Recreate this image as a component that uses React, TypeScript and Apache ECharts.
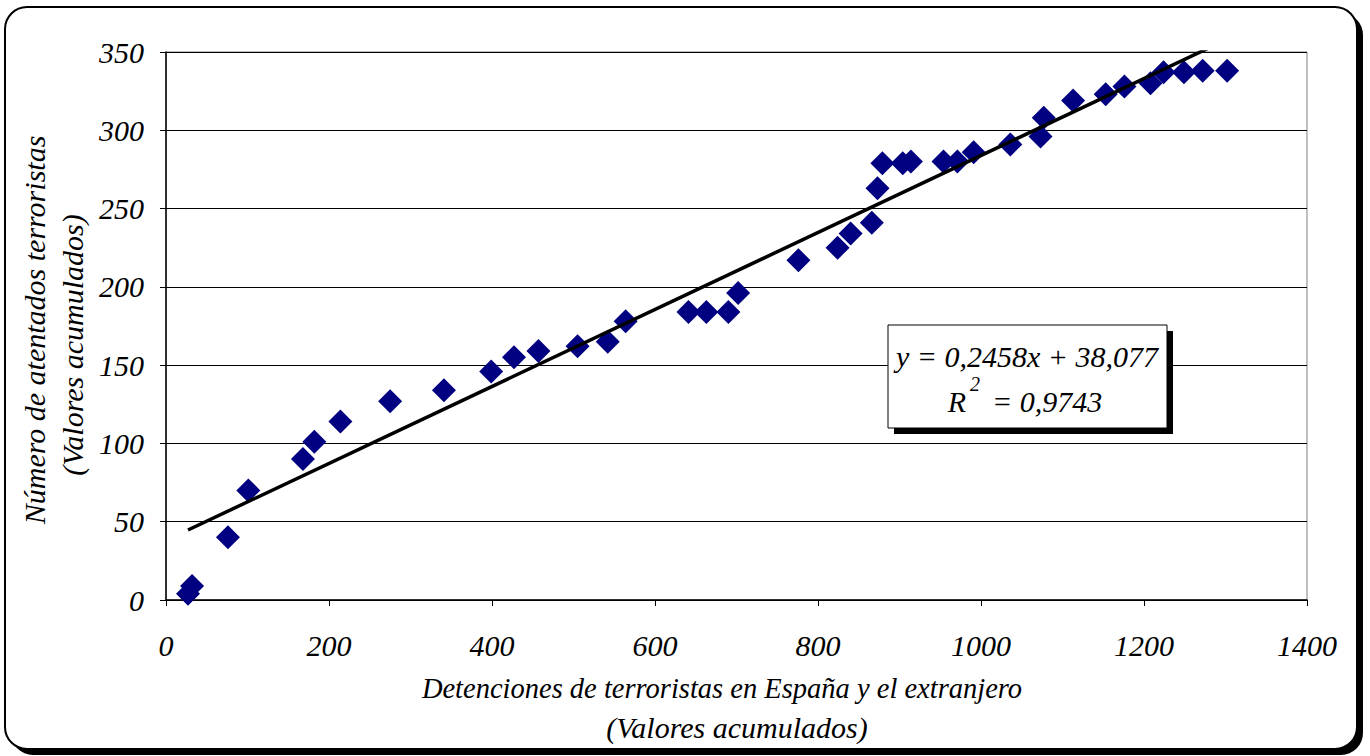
import React, { useEffect, useRef } from "react";
import * as echarts from "echarts";

const detenciones = [27, 32, 76, 101, 168, 182, 214, 275, 341, 399, 427, 457, 505, 542, 564, 641, 663, 690, 702, 776, 824, 840, 866, 873, 879, 904, 914, 954, 971, 991, 1036, 1073, 1077, 1113, 1153, 1176, 1208, 1224, 1249, 1272, 1302];
const atentados = [4, 9, 40, 70, 90, 101, 114, 127, 134, 146, 155, 159, 162, 165, 178, 184, 184, 184, 196, 217, 225, 234, 241, 263, 279, 279, 280, 280, 280, 286, 291, 296, 308, 319, 323, 328, 330, 337, 337, 338, 338];
const slope = 0.2458;
const intercept = 38.077;
const r2 = "0,9743";
const xTicks = [0, 200, 400, 600, 800, 1000, 1200, 1400];
const yTicks = [0, 50, 100, 150, 200, 250, 300, 350];
const xTitle1 = "Detenciones de terroristas en España y el extranjero";
const xTitle2 = "(Valores acumulados)";
const yTitle1 = "Número de atentados terroristas";
const yTitle2 = "(Valores acumulados)";

const FONT = "Liberation Serif, Times New Roman, serif";

export default function App() {
  const ref = useRef<HTMLDivElement>(null);
  useEffect(() => {
    document.body.style.margin = "0";
    const chart = echarts.init(ref.current!, null, { renderer: "svg" });
    const points = detenciones.map((x, i) => [x, atentados[i]]);
    const xMin = Math.min(...detenciones);
    const xMax = Math.max(...detenciones);
    const trend = [
      [xMin, slope * xMin + intercept],
      [xMax, slope * xMax + intercept],
    ];
    const txt = { fontFamily: FONT, fontStyle: "italic", fontSize: 30, fill: "#000" };
    chart.setOption({
      animation: false,
      backgroundColor: "#fff",
      grid: {
        left: 166, top: 52, right: 63, bottom: 156,
        show: true, borderColor: "#808080", borderWidth: 1, backgroundColor: "transparent",
      },
      xAxis: {
        type: "value", min: xTicks[0], max: xTicks[xTicks.length - 1], interval: 200,
        axisLine: { show: true, onZero: false, lineStyle: { color: "#000", width: 1.5 } },
        axisTick: { show: true, inside: false, length: 6, lineStyle: { color: "#000" } },
        splitLine: { show: false },
        axisLabel: { margin: 30, color: "#000", fontFamily: FONT, fontStyle: "italic", fontSize: 30, formatter: (v: number) => String(v) },
      },
      yAxis: {
        type: "value", min: yTicks[0], max: yTicks[yTicks.length - 1], interval: 50,
        axisLine: { show: true, onZero: false, lineStyle: { color: "#000", width: 1.5 } },
        axisTick: { show: true, inside: false, length: 6, lineStyle: { color: "#000" } },
        splitLine: { show: true, lineStyle: { color: "#000", width: 1 } },
        axisLabel: { margin: 22, color: "#000", fontFamily: FONT, fontStyle: "italic", fontSize: 30, formatter: (v: number) => String(v) },
      },
      series: [
        {
          type: "scatter", data: points, symbol: "diamond", symbolSize: 24,
          itemStyle: { color: "#000080", opacity: 1 }, z: 2,
        },
        {
          type: "line", data: trend, symbol: "none", clip: true,
          lineStyle: { color: "#000", width: 3.5 }, z: 3,
        },
      ],
      graphic: [
        { type: "rect", z: -10, shape: { x: 11, y: 13, width: 1352, height: 742, r: 22 }, style: { fill: "#000" } },
        { type: "rect", z: -9, shape: { x: 5, y: 7, width: 1352, height: 742, r: 22 }, style: { fill: "#fff", stroke: "#000", lineWidth: 2 } },
        { type: "text", x: 722, y: 688, style: { ...txt, fontSize: 28.5, text: xTitle1, align: "center", verticalAlign: "middle" } },
        { type: "text", x: 737, y: 727, style: { ...txt, text: xTitle2, align: "center", verticalAlign: "middle" } },
        { type: "text", x: 34, y: 330, rotation: Math.PI / 2, style: { ...txt, text: yTitle1, align: "center", verticalAlign: "middle" } },
        { type: "text", x: 72, y: 345, rotation: Math.PI / 2, style: { ...txt, text: yTitle2, align: "center", verticalAlign: "middle" } },
        { type: "rect", z: 10, shape: { x: 894, y: 331, width: 279, height: 103 }, style: { fill: "#000" } },
        { type: "rect", z: 11, shape: { x: 888, y: 325, width: 279, height: 103 }, style: { fill: "#fff", stroke: "#000", lineWidth: 1 } },
        { type: "text", z: 12, x: 1027, y: 356, style: { ...txt, text: `y = ${String(slope).replace(".", ",")}x + ${String(intercept).replace(".", ",")}`, align: "center", verticalAlign: "middle" } },
        { type: "text", z: 12, x: 966, y: 401, style: { ...txt, text: "R", align: "right", verticalAlign: "middle" } },
        { type: "text", z: 12, x: 970, y: 384, style: { ...txt, fontSize: 20, text: "2", align: "left", verticalAlign: "middle" } },
        { type: "text", z: 12, x: 992, y: 401, style: { ...txt, text: `= ${r2}`, align: "left", verticalAlign: "middle" } },
      ],
    });
    return () => chart.dispose();
  }, []);
  return <div ref={ref} style={{ position: "absolute", left: 0, top: 0, width: 1370, height: 756 }} />;
}
